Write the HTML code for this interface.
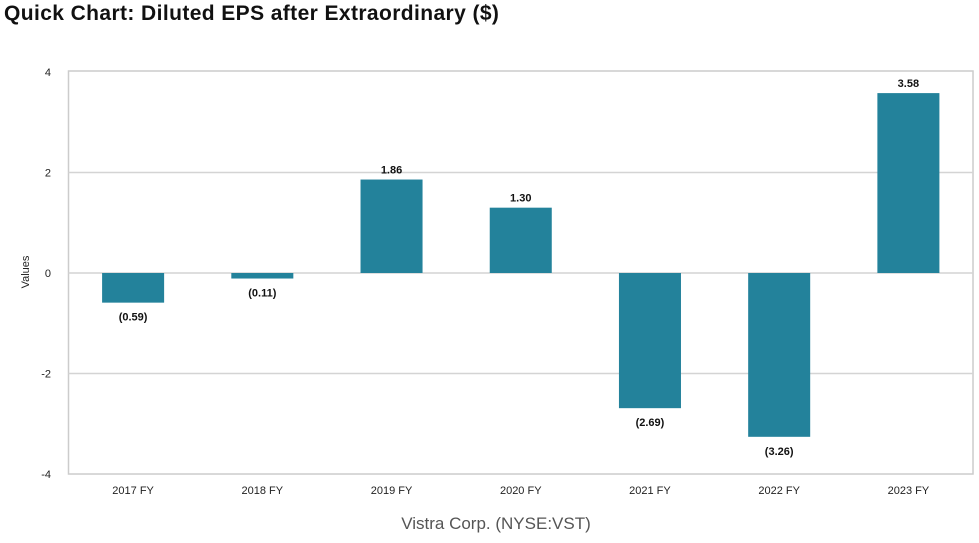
<!DOCTYPE html>
<html><head><meta charset="utf-8"><style>
body{margin:0;background:#fff;width:979px;height:543px;overflow:hidden;font-family:"Liberation Sans",sans-serif}
#title{position:absolute;left:4px;top:2px;font-size:21px;font-weight:bold;color:#111;letter-spacing:0.4px}
</style></head><body>
<div id="title">Quick Chart: Diluted EPS after Extraordinary ($)</div>
<svg id="chart" width="979" height="543" style="position:absolute;left:0;top:0"></svg>
<script>
const categories=["2017 FY","2018 FY","2019 FY","2020 FY","2021 FY","2022 FY","2023 FY"];
const values=[-0.59,-0.11,1.86,1.30,-2.69,-3.26,3.58];
const labels=["(0.59)","(0.11)","1.86","1.30","(2.69)","(3.26)","3.58"];
const ticks=[4,2,0,-2,-4];
const svg=document.getElementById('chart');
const NS='http://www.w3.org/2000/svg';
const L=68.5,R=973,T=72,B=474,ymin=-4,ymax=4;
const y=v=>T+(ymax-v)/(ymax-ymin)*(B-T);
const band=(R-L)/categories.length;
const x=i=>L+band*(i+0.5);
function mk(tag,attrs,txt){const e=document.createElementNS(NS,tag);for(const k in attrs)e.setAttribute(k,attrs[k]);if(txt!=null)e.textContent=txt;svg.appendChild(e);return e;}
const frame=mk('rect',{x:L,y:T-1,width:R-L,height:B-T+1,fill:'none',stroke:'#ccc','stroke-width':1.5});


ticks.forEach(t=>{
  if(t!==ymin&&t!==ymax){const g=mk('line',{x1:L,x2:R,y1:y(t),y2:y(t),stroke:'#d4d4d4','stroke-width':1.5});
  
  }
  const tl=mk('text',{x:51,y:y(t)+4,'text-anchor':'end','font-size':11,fill:'#222'},String(t));
  
  
});
const yt=mk('text',{x:29,y:272,'text-anchor':'middle','font-size':11,fill:'#222',transform:'rotate(-90 29 272)'},'Values');


const bw=band*0.48;
values.forEach((v,i)=>{
  const y0=y(0),y1=y(v);
  const r=mk('rect',{x:x(i)-bw/2,y:Math.min(y0,y1),width:bw,height:Math.abs(y1-y0),fill:'#23829b'});
  
  
  const ly=v>=0?y1-6:y1+18;
  const l=mk('text',{x:x(i),y:ly,'text-anchor':'middle','font-size':11,'font-weight':'bold',fill:'#111'},labels[i]);
  
  
  const c=mk('text',{x:x(i),y:494,'text-anchor':'middle','font-size':11,fill:'#222'},categories[i]);
  
  
});
const xt=mk('text',{x:496,y:529,'text-anchor':'middle','font-size':17,fill:'#555'},'Vistra Corp. (NYSE:VST)');


</script>
</body></html>
